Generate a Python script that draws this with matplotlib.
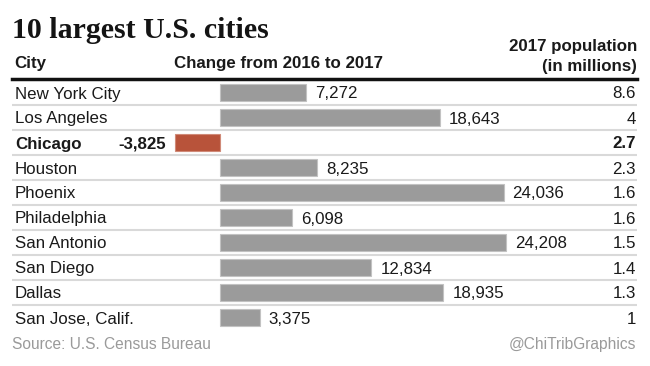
from matplotlib import pyplot as plt
from matplotlib import font_manager

cities = ['New York City', 'Los Angeles', 'Chicago', 'Houston', 'Phoenix',
          'Philadelphia', 'San Antonio', 'San Diego', 'Dallas', 'San Jose, Calif.']
change = [7272, 18643, -3825, 8235, 24036, 6098, 24208, 12834, 18935, 3375]
population = ['8.6', '4', '2.7', '2.3', '1.6', '1.6', '1.5', '1.4', '1.3', '1']
highlight = 'Chicago'

W, H = 650, 366
fig = plt.figure(figsize=(W / 100, H / 100), dpi=100)

names = {f.name for f in font_manager.fontManager.ttflist}
if 'Liberation Sans Narrow' in names:
    head_font, head_size = 'Liberation Sans Narrow', 14.6
else:
    head_font, head_size = 'Liberation Sans', 12.2
body = 'Liberation Sans'

def fx(px):
    return px / W

def fy(py):
    return 1 - py / H

# title and headers
fig.text(fx(12), fy(28), '10 largest U.S. cities', family='Liberation Serif',
         fontweight='bold', fontsize=21.5, va='center_baseline', ha='left', color='#141414')
fig.text(fx(14), fy(62), 'City', family=head_font, fontweight='bold',
         fontsize=head_size, va='center_baseline', ha='left', color='#1a1a1a')
fig.text(fx(278), fy(62), 'Change from 2016 to 2017', family=head_font, fontweight='bold',
         fontsize=head_size, va='center_baseline', ha='center', color='#1a1a1a')
fig.text(fx(637), fy(45), '2017 population', family=head_font, fontweight='bold',
         fontsize=head_size, va='center_baseline', ha='right', color='#1a1a1a')
fig.text(fx(637), fy(65), '(in millions)', family=head_font, fontweight='bold',
         fontsize=head_size, va='center_baseline', ha='right', color='#1a1a1a')

# bars
px_per_unit = 0.0118
ax = fig.add_axes([fx(12), fy(330), 625 / W, 250 / H])
ax.set_xlim(-208 / px_per_unit, 417 / px_per_unit)
ax.set_ylim(len(cities) - 0.5, -0.5)
ax.axis('off')

colors = ['#b8533a' if c == highlight else '#9b9b9b' for c in cities]
edges = ['#d08a78' if c == highlight else '#c2c2c2' for c in cities]
ax.barh(range(len(cities)), change, height=0.68, color=colors, edgecolor=edges, linewidth=0.8)

for k in range(len(cities) - 1):
    ax.axhline(k + 0.5, color='#d9d9d9', linewidth=1.5, zorder=0)
ax.axhline(-0.55, color='#111111', linewidth=2.5, clip_on=False)

gap = 9 / px_per_unit
yt = ax.get_yaxis_transform()
for i, (city, val, pop) in enumerate(zip(cities, change, population)):
    weight = 'bold' if city == highlight else 'normal'
    ax.text(0.005, i, city, transform=yt, family=body, fontsize=12.2, fontweight=weight,
            va='center_baseline', ha='left', color='#1a1a1a')
    ax.text(0.998, i, pop, transform=yt, family=body, fontsize=12.2, fontweight=weight,
            va='center_baseline', ha='right', color='#1a1a1a')
    if val >= 0:
        ax.text(val + gap, i, f'{val:,}', family=body, fontsize=12.2, fontweight=weight,
                va='center_baseline', ha='left', color='#1a1a1a')
    else:
        ax.text(val - gap, i, f'{val:,}', family=body, fontsize=12.2, fontweight=weight,
                va='center_baseline', ha='right', color='#1a1a1a')

# footer
fig.text(fx(12), fy(343), 'Source: U.S. Census Bureau', family=body, fontsize=11.2,
         va='center_baseline', ha='left', color='#9a9a9a')
fig.text(fx(636), fy(343), '@ChiTribGraphics', family=body, fontsize=11.2,
         va='center_baseline', ha='right', color='#9a9a9a')

fig.savefig('out.png', dpi=100)
